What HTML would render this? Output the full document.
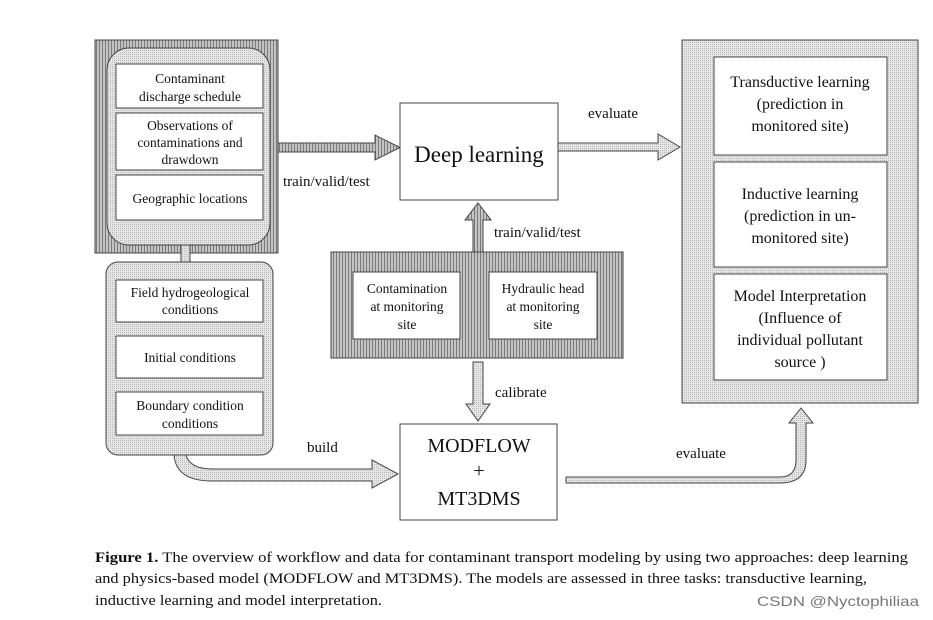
<!DOCTYPE html>
<html><head><meta charset="utf-8"><style>html,body{margin:0;padding:0;background:#fff}svg{display:block}</style></head><body>
<svg width="933" height="620" viewBox="0 0 933 620" xmlns="http://www.w3.org/2000/svg" font-family="Liberation Serif, serif" fill="#111">
<defs>
<pattern id="dk" width="3" height="3" patternUnits="userSpaceOnUse"><rect width="3" height="3" fill="#c4c4c4"/><rect width="1" height="3" fill="#7a7a7a"/></pattern>
<pattern id="lt" width="2" height="2" patternUnits="userSpaceOnUse"><rect width="2" height="2" fill="#e6e6e6"/><rect width="1" height="1" fill="#b8b8b8"/></pattern>
</defs>
<rect x="95" y="40" width="183" height="213" fill="url(#dk)" stroke="#444"/>
<rect x="181" y="245" width="9" height="18" fill="url(#lt)" stroke="#444"/>
<rect x="107" y="48" width="163" height="197" rx="22" fill="url(#lt)" stroke="#444"/>
<g fill="#fff" stroke="#444">
<rect x="116" y="64" width="147" height="44"/><rect x="116" y="113" width="147" height="57"/><rect x="116" y="175" width="147" height="45"/>
</g>
<g font-size="13.5" text-anchor="middle">
<text x="190" y="83">Contaminant</text><text x="190" y="101">discharge schedule</text>
<text x="190" y="130">Observations of</text><text x="190" y="147">contaminations and</text><text x="190" y="164">drawdown</text>
<text x="190" y="203">Geographic locations</text>
</g>
<rect x="106" y="262" width="167" height="193" rx="12" fill="url(#lt)" stroke="#444"/>
<g fill="#fff" stroke="#444">
<rect x="116" y="280" width="147" height="42"/><rect x="116" y="336" width="147" height="42"/><rect x="116" y="392" width="147" height="43"/>
</g>
<g font-size="13.5" text-anchor="middle">
<text x="190" y="297">Field hydrogeological</text><text x="190" y="314">conditions</text>
<text x="190" y="362">Initial conditions</text>
<text x="190" y="410">Boundary condition</text><text x="190" y="428">conditions</text>
</g>
<path d="M278 143 H375 V135 L400 147.5 L375 160 V152 H278 Z" fill="url(#dk)" stroke="#444"/>
<text x="283" y="186" font-size="15">train/valid/test</text>
<rect x="400" y="103" width="158" height="97" fill="#fff" stroke="#444"/>
<text x="479" y="162" font-size="23" text-anchor="middle">Deep learning</text>
<path d="M558 143 H658 V134 L680 147 L658 160 V151 H558 Z" fill="url(#lt)" stroke="#444"/>
<text x="613" y="118" font-size="15" text-anchor="middle">evaluate</text>
<path d="M473 252 V220 H465 L478 203 L491 220 H483 V252 Z" fill="url(#dk)" stroke="#444"/>
<text x="494" y="237" font-size="15">train/valid/test</text>
<rect x="331" y="252" width="292" height="106" fill="url(#dk)" stroke="#444"/>
<g fill="#fff" stroke="#444"><rect x="353" y="272" width="107" height="67"/><rect x="489" y="272" width="108" height="67"/></g>
<g font-size="13.5" text-anchor="middle">
<text x="407" y="293">Contamination</text><text x="407" y="311">at monitoring</text><text x="407" y="329">site</text>
<text x="543" y="293">Hydraulic head</text><text x="543" y="311">at monitoring</text><text x="543" y="329">site</text>
</g>
<path d="M473 362 V404 H466 L478 421 L490 404 H483 V362 Z" fill="url(#lt)" stroke="#444"/>
<text x="495" y="397" font-size="15">calibrate</text>
<rect x="400" y="424" width="157" height="96" fill="#fff" stroke="#444"/>
<g font-size="20" text-anchor="middle"><text x="479" y="452">MODFLOW</text><text x="479" y="477">+</text><text x="479" y="505">MT3DMS</text></g>
<path d="M186 455 Q190 469 212 469 H372 V460 L398 474 L372 488 V481 H212 Q176 481 174 455 Z" fill="url(#lt)" stroke="#444"/>
<text x="307" y="452" font-size="15">build</text>
<path d="M566 477 H780 Q796 477 796 460 V423 H789 L801 408 L813 423 H806 V460 Q806 483 780 483 H566 Z" fill="url(#lt)" stroke="#444"/>
<text x="676" y="458" font-size="15">evaluate</text>
<rect x="682" y="40" width="236" height="363" fill="url(#lt)" stroke="#444"/>
<g fill="#fff" stroke="#444">
<rect x="714" y="57" width="173" height="98"/><rect x="714" y="162" width="173" height="105"/><rect x="714" y="274" width="173" height="106"/>
</g>
<g font-size="16" text-anchor="middle">
<text x="800" y="87">Transductive learning</text><text x="800" y="109">(prediction in</text><text x="800" y="131">monitored site)</text>
<text x="800" y="199">Inductive learning</text><text x="800" y="221">(prediction in un-</text><text x="800" y="243">monitored site)</text>
<text x="800" y="301">Model Interpretation</text><text x="800" y="323">(Influence of</text><text x="800" y="345">individual pollutant</text><text x="800" y="367">source )</text>
</g>
<g font-size="14.5">
<text x="95" y="562" textLength="813" lengthAdjust="spacingAndGlyphs"><tspan font-weight="bold">Figure 1.</tspan>  The overview of workflow and data for contaminant transport modeling by using two approaches: deep learning</text>
<text x="95" y="583" textLength="772" lengthAdjust="spacingAndGlyphs">and physics-based model (MODFLOW and MT3DMS). The models are assessed in three tasks: transductive learning,</text>
<text x="95" y="605" textLength="287" lengthAdjust="spacingAndGlyphs">inductive learning and model interpretation.</text>
</g>
<text x="757" y="606" font-family="Liberation Sans, sans-serif" font-size="14" fill="#777" textLength="162" lengthAdjust="spacingAndGlyphs">CSDN @Nyctophiliaa</text>
</svg>
</body></html>
